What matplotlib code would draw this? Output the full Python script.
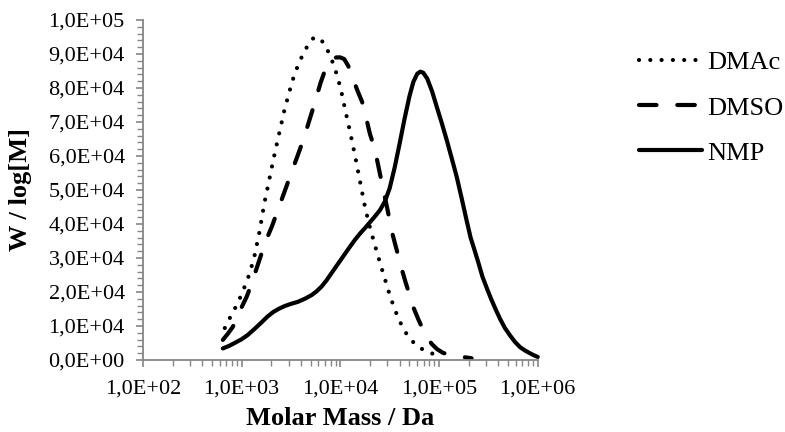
import numpy as np
import matplotlib
matplotlib.use("Agg")
import matplotlib.pyplot as plt
from matplotlib.ticker import FuncFormatter, MultipleLocator, LogLocator, NullFormatter

# log10 of molar mass (Da) and W/log[M] for each solvent
log_m_dmac = [2.83, 2.88, 2.93, 2.98, 3.03, 3.08, 3.13, 3.18, 3.23, 3.28,
              3.33, 3.38, 3.43, 3.48, 3.53, 3.58, 3.63, 3.68, 3.72, 3.76,
              3.80, 3.84, 3.89, 3.93, 3.97, 4.01, 4.05, 4.10, 4.15, 4.20,
              4.25, 4.30, 4.35, 4.40, 4.45, 4.50, 4.55, 4.60, 4.65, 4.70,
              4.75, 4.80, 4.86, 4.93, 5.01]
w_dmac = [9400, 12300, 15000, 18000, 21500, 25300, 30500, 37500, 46000, 53000,
          60000, 66500, 73000, 78500, 83500, 87300, 90400, 93000, 94500, 95000,
          94400, 92800, 90000, 87000, 83500, 79000, 73500, 67000, 60000, 52500,
          45000, 39000, 33800, 28800, 24000, 19200, 15000, 11500, 8600, 6500,
          4900, 3700, 2700, 1900, 1500]

log_m_dmso = [2.81, 2.86, 2.91, 2.96, 3.00, 3.05, 3.09, 3.13, 3.17, 3.21,
              3.26, 3.31, 3.36, 3.41, 3.46, 3.51, 3.56, 3.61, 3.66, 3.71,
              3.76, 3.80, 3.84, 3.88, 3.92, 3.96, 4.00, 4.04, 4.08, 4.12,
              4.17, 4.22, 4.26, 4.30, 4.35, 4.40, 4.44, 4.48, 4.52, 4.57,
              4.62, 4.66, 4.70, 4.74, 4.79, 4.84, 4.88, 4.93, 4.98, 5.04,
              5.10, 5.18, 5.26, 5.33]
w_dmso = [5900, 7700, 9700, 12500, 15500, 18500, 21500, 25000, 28500, 32000,
          36000, 39500, 43500, 47500, 51500, 55500, 59500, 63500, 68000, 72700,
          77500, 81500, 84800, 87200, 88500, 89000, 89000, 88500, 86500, 83500,
          79500, 76000, 71500, 66500, 62000, 55000, 49500, 44000, 38000, 32500,
          27000, 23000, 19300, 15500, 12000, 8800, 6500, 4600, 3200, 2100,
          1600, 1200, 800, 500]

log_m_nmp = [2.81, 2.87, 2.93, 3.00, 3.06, 3.13, 3.20, 3.26, 3.32, 3.38,
             3.44, 3.50, 3.57, 3.64, 3.71, 3.76, 3.81, 3.86, 3.91, 3.97,
             4.03, 4.09, 4.15, 4.20, 4.25, 4.30, 4.35, 4.40, 4.45, 4.50,
             4.55, 4.60, 4.65, 4.70, 4.74, 4.78, 4.81, 4.84, 4.88, 4.93,
             4.98, 5.03, 5.08, 5.13, 5.18, 5.23, 5.28, 5.32, 5.36, 5.40,
             5.44, 5.49, 5.53, 5.58, 5.62, 5.67, 5.72, 5.77, 5.82, 5.87,
             5.92, 5.96, 6.00]
w_nmp = [3400, 4100, 5000, 6100, 7300, 9100, 11000, 12700, 14100, 15100,
         15900, 16500, 17100, 18000, 19100, 20200, 21600, 23400, 25500, 28000,
         30500, 33000, 35400, 37200, 38800, 40500, 42200, 44000, 46500, 50500,
         56500, 63500, 70800, 77500, 81800, 84200, 84800, 84500, 82800, 79000,
         74200, 69500, 64500, 59200, 53800, 47500, 41000, 36000, 32300, 28500,
         24500, 20700, 17800, 14500, 12000, 9300, 7200, 5300, 3800, 2800,
         2000, 1400, 900]

def sci_comma(v, pos):
    if v == 0:
        return "0,0E+00"
    exp = int(np.floor(np.log10(abs(v))))
    mant = v / 10 ** exp
    return f"{mant:.1f}".replace(".", ",") + f"E+{exp:02d}"

plt.rcParams["font.family"] = ["Liberation Serif", "DejaVu Serif"]

fig = plt.figure(figsize=(7.85, 4.32), dpi=100)
ax = fig.add_axes([0.182, 0.1667, 0.503, 0.787])

lw = 3.0
ax.plot(10 ** np.array(log_m_dmac), w_dmac, color="black", lw=lw,
        dashes=(0.01, 2.7), dash_capstyle="round", label="DMAc", clip_on=False)
ax.plot(10 ** np.array(log_m_dmso), w_dmso, color="black", lw=lw,
        dashes=(4.2, 5.0), dash_capstyle="round", label="DMSO", clip_on=False)
ax.plot(10 ** np.array(log_m_nmp), w_nmp, color="black", lw=lw,
        solid_capstyle="round", solid_joinstyle="round", label="NMP", clip_on=False)

ax.set_xscale("log")
ax.set_xlim(1e2, 1e6)
ax.set_ylim(0, 1e5)

ax.xaxis.set_major_locator(LogLocator(base=10, numticks=10))
ax.xaxis.set_minor_locator(LogLocator(base=10, subs=np.arange(2, 10), numticks=20))
ax.xaxis.set_minor_formatter(NullFormatter())
ax.xaxis.set_major_formatter(FuncFormatter(sci_comma))
ax.yaxis.set_major_locator(MultipleLocator(10000))
ax.yaxis.set_minor_locator(MultipleLocator(2000))
ax.yaxis.set_major_formatter(FuncFormatter(sci_comma))

axis_grey = "#868686"
for side in ["top", "right"]:
    ax.spines[side].set_visible(False)
for side in ["left", "bottom"]:
    ax.spines[side].set_color(axis_grey)
    ax.spines[side].set_linewidth(1.3)

ax.tick_params(axis="both", which="major", direction="out", length=5, width=1.2,
               color=axis_grey, labelsize=16, labelcolor="black")
ax.tick_params(axis="both", which="minor", direction="out", length=4, width=1.0,
               color=axis_grey)
ax.tick_params(axis="y", which="major", pad=8)
ax.tick_params(axis="x", which="major", pad=9)

ax.set_xlabel("Molar Mass / Da", fontsize=19, fontweight="bold", labelpad=6)
ax.set_ylabel("W / log[M]", fontsize=19, fontweight="bold", labelpad=12)

ax.legend(loc="upper left", bbox_to_anchor=(1.229, 0.94), frameon=False,
          fontsize=19, handlelength=2.4, handletextpad=0.2, labelspacing=0.82,
          borderaxespad=0)

fig.savefig("out.png", dpi=100)
